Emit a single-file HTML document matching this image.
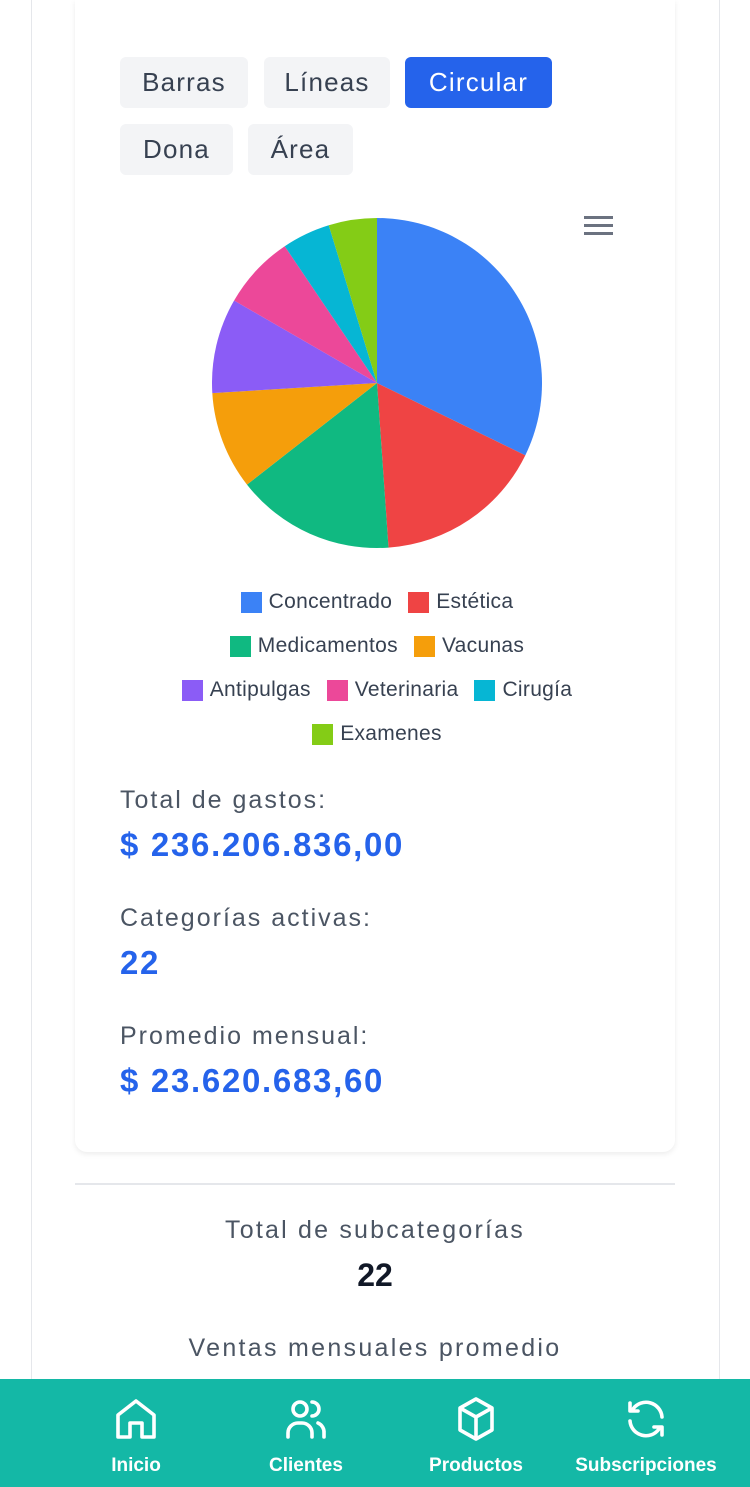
<!DOCTYPE html>
<html><head><meta charset="utf-8">
<style>
*{box-sizing:border-box;margin:0;padding:0}
body{width:750px;height:1487px;overflow:hidden;background:#fff;font-family:"Liberation Sans",sans-serif;position:relative}
.edge{position:absolute;top:0;bottom:0;width:1px;background:#e5e7eb}
.card{position:absolute;left:75px;top:0;width:600px;height:1152px;background:#fff;border-radius:0 0 12px 12px;box-shadow:0 2px 6px rgba(0,0,0,0.08)}
.btn{position:absolute;height:51px;border-radius:6px;background:#f3f4f6;color:#374151;font-size:26px;letter-spacing:1.2px;display:flex;align-items:center;justify-content:center}
.btn.active{background:#2563eb;color:#fff}
.leg{position:absolute;font-family:"Liberation Sans",sans-serif;font-size:21px;letter-spacing:0.3px;color:#374151;display:flex;align-items:center;white-space:nowrap}
.leg i{display:inline-block;width:21px;height:21px;margin-right:7px}
.lbl{position:absolute;left:120px;font-size:25px;letter-spacing:2px;color:#4b5563}
.val{position:absolute;left:120px;font-size:33px;letter-spacing:1.7px;font-weight:bold;color:#2563eb}
.nav{position:absolute;left:0;top:1379px;width:750px;height:108px;background:#14b8a6}
.ni{position:absolute;top:0;width:180px;height:108px;color:#fff;text-align:center}
.ni svg{position:absolute;top:16px;left:50%;margin-left:-24px}
.ni span{position:absolute;top:76px;left:0;right:0;font-size:19px;font-weight:bold}
</style></head><body>
<div class="edge" style="left:31px"></div>
<div class="edge" style="left:719px"></div>
<div class="card"></div>
<div class="btn" style="left:120px;top:57px;width:128px">Barras</div>
<div class="btn" style="left:264px;top:57px;width:126px">Líneas</div>
<div class="btn active" style="left:405px;top:57px;width:147px">Circular</div>
<div class="btn" style="left:120px;top:124px;width:113px">Dona</div>
<div class="btn" style="left:248px;top:124px;width:105px">Área</div>
<div style="position:absolute;left:584px;top:216px;width:29px;height:20px">
<div style="height:3px;background:#6b7280;margin-bottom:5px"></div><div style="height:3px;background:#6b7280;margin-bottom:5px"></div><div style="height:3px;background:#6b7280"></div></div>
<svg id="pie" width="750" height="560" style="position:absolute;left:0;top:200px"></svg>
<div id="legend"></div>
<div class="lbl" style="top:786px">Total de gastos:</div>
<div class="val" style="top:826px">$ 236.206.836,00</div>
<div class="lbl" style="top:904px">Categorías activas:</div>
<div class="val" style="top:944px">22</div>
<div class="lbl" style="top:1022px">Promedio mensual:</div>
<div class="val" style="top:1062px">$ 23.620.683,60</div>
<div style="position:absolute;left:75px;top:1183px;width:600px;height:2px;background:#e5e7eb"></div>
<div style="position:absolute;left:0;width:750px;top:1216px;text-align:center;font-size:25px;letter-spacing:2.2px;color:#4b5563">Total de subcategorías</div>
<div style="position:absolute;left:0;width:750px;top:1257px;text-align:center;font-size:32px;font-weight:bold;color:#111827">22</div>
<div style="position:absolute;left:0;width:750px;top:1334px;text-align:center;font-size:25px;letter-spacing:2.3px;color:#4b5563">Ventas mensuales promedio</div>
<div class="nav">
<div class="ni" style="left:46px"><svg width="48" height="48" viewBox="0 0 24 24" fill="none" stroke="#fff" stroke-width="1.8" stroke-linejoin="round"><path d="M3 21V10l9-7 9 7v11h-6v-7H9v7z"/></svg><span>Inicio</span></div>
<div class="ni" style="left:216px"><svg width="48" height="48" viewBox="0 0 24 24" fill="none" stroke="#fff" stroke-width="1.8" stroke-linecap="round"><circle cx="9" cy="7" r="3.5"/><path d="M3 21v-2a5 5 0 0 1 5-5h2a5 5 0 0 1 5 5v2"/><path d="M15 3.5a3.5 3.5 0 0 1 0 7"/><path d="M18 14a5 5 0 0 1 3 5v2"/></svg><span>Clientes</span></div>
<div class="ni" style="left:386px"><svg width="48" height="48" viewBox="0 0 24 24" fill="none" stroke="#fff" stroke-width="1.8" stroke-linejoin="round"><path d="M12 2l8 4.5v11L12 22l-8-4.5v-11z"/><path d="M4 6.5l8 4.5 8-4.5M12 11v11"/></svg><span>Productos</span></div>
<div class="ni" style="left:556px"><svg width="48" height="48" viewBox="0 0 24 24" fill="none" stroke="#fff" stroke-width="1.8" stroke-linecap="round" stroke-linejoin="round"><path d="M20 11A8 8 0 0 0 5.5 7"/><path d="M4 4v4h4"/><path d="M4 13a8 8 0 0 0 14.5 4"/><path d="M20 20v-4h-4"/></svg><span>Subscripciones</span></div>
</div>
<script>
const categories=["Concentrado","Estética","Medicamentos","Vacunas","Antipulgas","Veterinaria","Cirugía","Examenes"];
const values=[116,60,56,34.5,33.5,26,17,17];
const colors=["#3b82f6","#ef4444","#10b981","#f59e0b","#8b5cf6","#ec4899","#06b6d4","#84cc16"];
const legendRows=[[0,1],[2,3],[4,5,6],[7]];
const NS="http://www.w3.org/2000/svg";
const svg=document.getElementById('pie');
const cx=377,cy=183,r=165;
const total=values.reduce((a,b)=>a+b,0);
let a0=0;
function pt(a){const t=a/total*2*Math.PI;return [cx+r*Math.sin(t),cy-r*Math.cos(t)];}
values.forEach((v,i)=>{
  const a1=a0+v;const p0=pt(a0),p1=pt(a1);const large=(v/total)>0.5?1:0;
  const p=document.createElementNS(NS,'path');
  p.setAttribute('d',`M${cx},${cy}L${p0[0]},${p0[1]}A${r},${r} 0 ${large} 1 ${p1[0]},${p1[1]}Z`);
  p.setAttribute('fill',colors[i]);
  
  
  svg.appendChild(p);a0=a1;
});
const lg=document.getElementById('legend');
const cw=document.createElement('canvas').getContext('2d');cw.font='21px "Liberation Sans"';
legendRows.forEach((row,ri)=>{
  const widths=row.map(i=>28+cw.measureText(categories[i]).width+categories[i].length*0.3);
  const gap=16;const tw=widths.reduce((a,b)=>a+b,0)+gap*(row.length-1);
  let x=377-tw/2;
  row.forEach((i,k)=>{
    const d=document.createElement('div');d.className='leg';
    d.style.left=x+'px';d.style.top=(590+ri*44)+'px';
    d.innerHTML='<i style="background:'+colors[i]+'"></i>'+categories[i];
    
    
    lg.appendChild(d);x+=widths[k]+gap;
  });
});
</script>
</body></html>
